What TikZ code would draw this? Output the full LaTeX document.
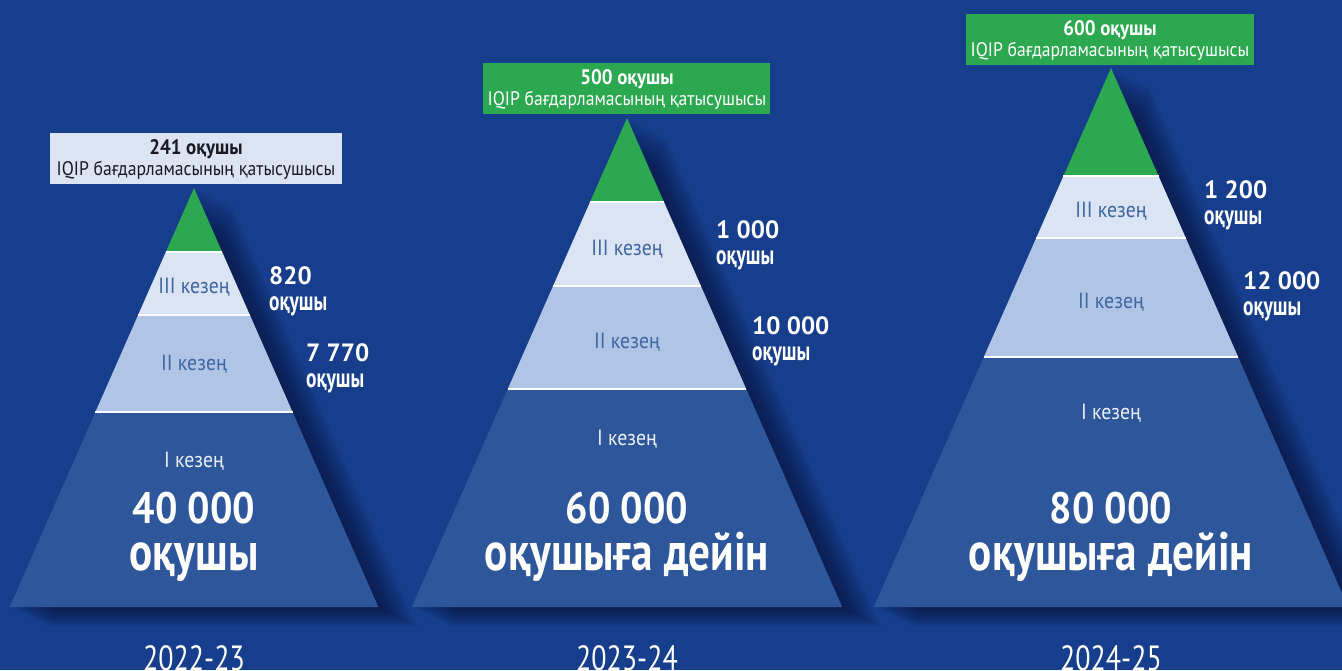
\documentclass[tikz,border=0pt]{standalone}
\usepackage{fontspec}
\setmainfont{PT Sans}
\newfontfamily\fn{PT Sans}[FakeStretch=0.9]
\newfontfamily\fm{PT Sans}[FakeStretch=0.8]
\newfontfamily\fk{PT Sans}[FakeStretch=0.72]
\usetikzlibrary{calc}
\definecolor{bg}{RGB}{22,62,140}
\definecolor{layI}{RGB}{45,86,155}
\definecolor{layII}{RGB}{176,197,230}
\definecolor{layIII}{RGB}{219,228,244}
\definecolor{grn}{RGB}{44,168,80}
\definecolor{lbl}{RGB}{62,102,160}
\definecolor{shd}{RGB}{12,18,55}
\definecolor{boxlight}{RGB}{220,228,243}
\definecolor{ink}{RGB}{25,25,35}
\definecolor{softwhite}{RGB}{236,240,248}

\newcommand{\mypyr}[6]{%
  % #1 prefix, #2 cx, #3 apex y, #4 y1, #5 y2, #6 y3 ; base y = 607
  \coordinate (#1apex) at (#2,#3);
  \coordinate (#1aL) at ({#2-0.44*(#4-#3)},#4);
  \coordinate (#1aR) at ({#2+0.44*(#4-#3)},#4);
  \coordinate (#1bL) at ({#2-0.44*(#5-#3)},#5);
  \coordinate (#1bR) at ({#2+0.44*(#5-#3)},#5);
  \coordinate (#1cL) at ({#2-0.44*(#6-#3)},#6);
  \coordinate (#1cR) at ({#2+0.44*(#6-#3)},#6);
  \coordinate (#1dL) at ({#2-0.44*(607-#3)},607);
  \coordinate (#1dR) at ({#2+0.44*(607-#3)},607);
  \foreach \k in {1,...,16}{
    \fill[shd, opacity=0.055]
      ([shift={(\k*2.4,\k*1.2)}]#1apex) -- ([shift={(\k*2.4,\k*1.2)}]#1dR)
      -- ([shift={(\k*2.4,\k*1.2)}]#1dL) -- cycle;
  }
  \fill[grn] (#1apex) -- (#1aR) -- (#1aL) -- cycle;
  \fill[layIII] (#1aL) -- (#1aR) -- (#1bR) -- (#1bL) -- cycle;
  \fill[layII] (#1bL) -- (#1bR) -- (#1cR) -- (#1cL) -- cycle;
  \fill[layI] (#1cL) -- (#1cR) -- (#1dR) -- (#1dL) -- cycle;
  \draw[sep] (#1aL) -- (#1aR);
  \draw[sep] (#1bL) -- (#1bR);
  \draw[sep] (#1cL) -- (#1cR);
}

\begin{document}
\begin{tikzpicture}[x=1pt,y=-1pt,
  sep/.style={white, line width=2.6pt},
  stagebox/.style={anchor=base, inner sep=0pt, text=lbl, font=\fn\fontsize{22}{22}\selectfont},
  stagewhite/.style={stagebox, text=softwhite},
  sidenum/.style={anchor=base west, inner sep=0pt, text=white, font=\bfseries\fontsize{25}{25}\selectfont},
  sideword/.style={anchor=base west, inner sep=0pt, text=white, font=\fk\bfseries\fontsize{27}{27}\selectfont},
  bignum/.style={anchor=base, inner sep=0pt, text=white, font=\fn\bfseries\fontsize{44}{44}\selectfont},
  bigword/.style={anchor=base, inner sep=0pt, text=white, font=\fm\bfseries\fontsize{54}{54}\selectfont},
  yearlbl/.style={anchor=base, inner sep=0pt, text=white, font=\fm\fontsize{35}{35}\selectfont},
  topbox/.style={anchor=north west, inner sep=0pt, minimum height=51pt},
  topone/.style={anchor=base, inner sep=0pt, font=\fn\bfseries\fontsize{21}{21}\selectfont},
  toptwo/.style={anchor=base, inner sep=0pt, font=\fn\fontsize{19.6}{19.6}\selectfont}
]
\useasboundingbox (0,0) rectangle (1342,670);
\clip (0,0) rectangle (1342,670);
\fill[bg] (0,0) rectangle (1342,670);

% ---------- pyramid 1 ----------
\mypyr{p}{194}{188}{252}{315}{412}
\node[topbox, fill=boxlight, minimum width=292pt] (box1) at (50,133) {};
\node[topone, text=ink] (box1a) at (196,154) {241 оқушы};
\node[toptwo, text=ink] (box1b) at (196,175) {IQIP бағдарламасының қатысушысы};
\node[stagebox] (p1s3) at (194,293) {III кезең};
\node[stagebox] (p1s2) at (194,370) {II кезең};
\node[stagewhite] (p1s1) at (194,467) {I кезең};
\node[bignum] (p1n) at (194,523) {40 000};
\node[bigword] (p1w) at (194,570) {оқушы};
\node[sidenum] (p1a) at (269,284) {820};
\node[sideword] (p1aw) at (269,310) {оқушы};
\node[sidenum] (p1b) at (306,361) {7 770};
\node[sideword] (p1bw) at (306,387) {оқушы};
\node[yearlbl] (y1) at (194,670) {2022-23};

% ---------- pyramid 2 ----------
\mypyr{q}{627}{118}{202}{286}{389}
\node[topbox, fill=grn, minimum width=287pt] (box2) at (483,63) {};
\node[topone, text=white] (box2a) at (627,84) {500 оқушы};
\node[toptwo, text=white] (box2b) at (627,105) {IQIP бағдарламасының қатысушысы};
\node[stagebox] (p2s3) at (627,255) {III кезең};
\node[stagebox] (p2s2) at (627,348) {II кезең};
\node[stagewhite] (p2s1) at (627,445) {I кезең};
\node[bignum] (p2n) at (627,523) {60 000};
\node[bigword] (p2w) at (627,570) {оқушыға дейін};
\node[sidenum] (p2a) at (716,238) {1 000};
\node[sideword] (p2aw) at (716,264) {оқушы};
\node[sidenum] (p2b) at (752,334) {10 000};
\node[sideword] (p2bw) at (752,360) {оқушы};
\node[yearlbl] (y2) at (627,670) {2023-24};

% ---------- pyramid 3 ----------
\mypyr{r}{1111}{68}{176}{238}{357}
\node[topbox, fill=grn, minimum width=288pt] (box3) at (966,14) {};
\node[topone, text=white] (box3a) at (1110,35) {600 оқушы};
\node[toptwo, text=white] (box3b) at (1110,56) {IQIP бағдарламасының қатысушысы};
\node[stagebox] (p3s3) at (1111,217) {III кезең};
\node[stagebox] (p3s2) at (1111,308) {II кезең};
\node[stagewhite] (p3s1) at (1111,419) {I кезең};
\node[bignum] (p3n) at (1111,523) {80 000};
\node[bigword] (p3w) at (1111,570) {оқушыға дейін};
\node[sidenum] (p3a) at (1204,198) {1 200};
\node[sideword] (p3aw) at (1204,224) {оқушы};
\node[sidenum] (p3b) at (1243,289) {12 000};
\node[sideword] (p3bw) at (1243,315) {оқушы};
\node[yearlbl] (y3) at (1111,670) {2024-25};
\end{tikzpicture}
\end{document}
